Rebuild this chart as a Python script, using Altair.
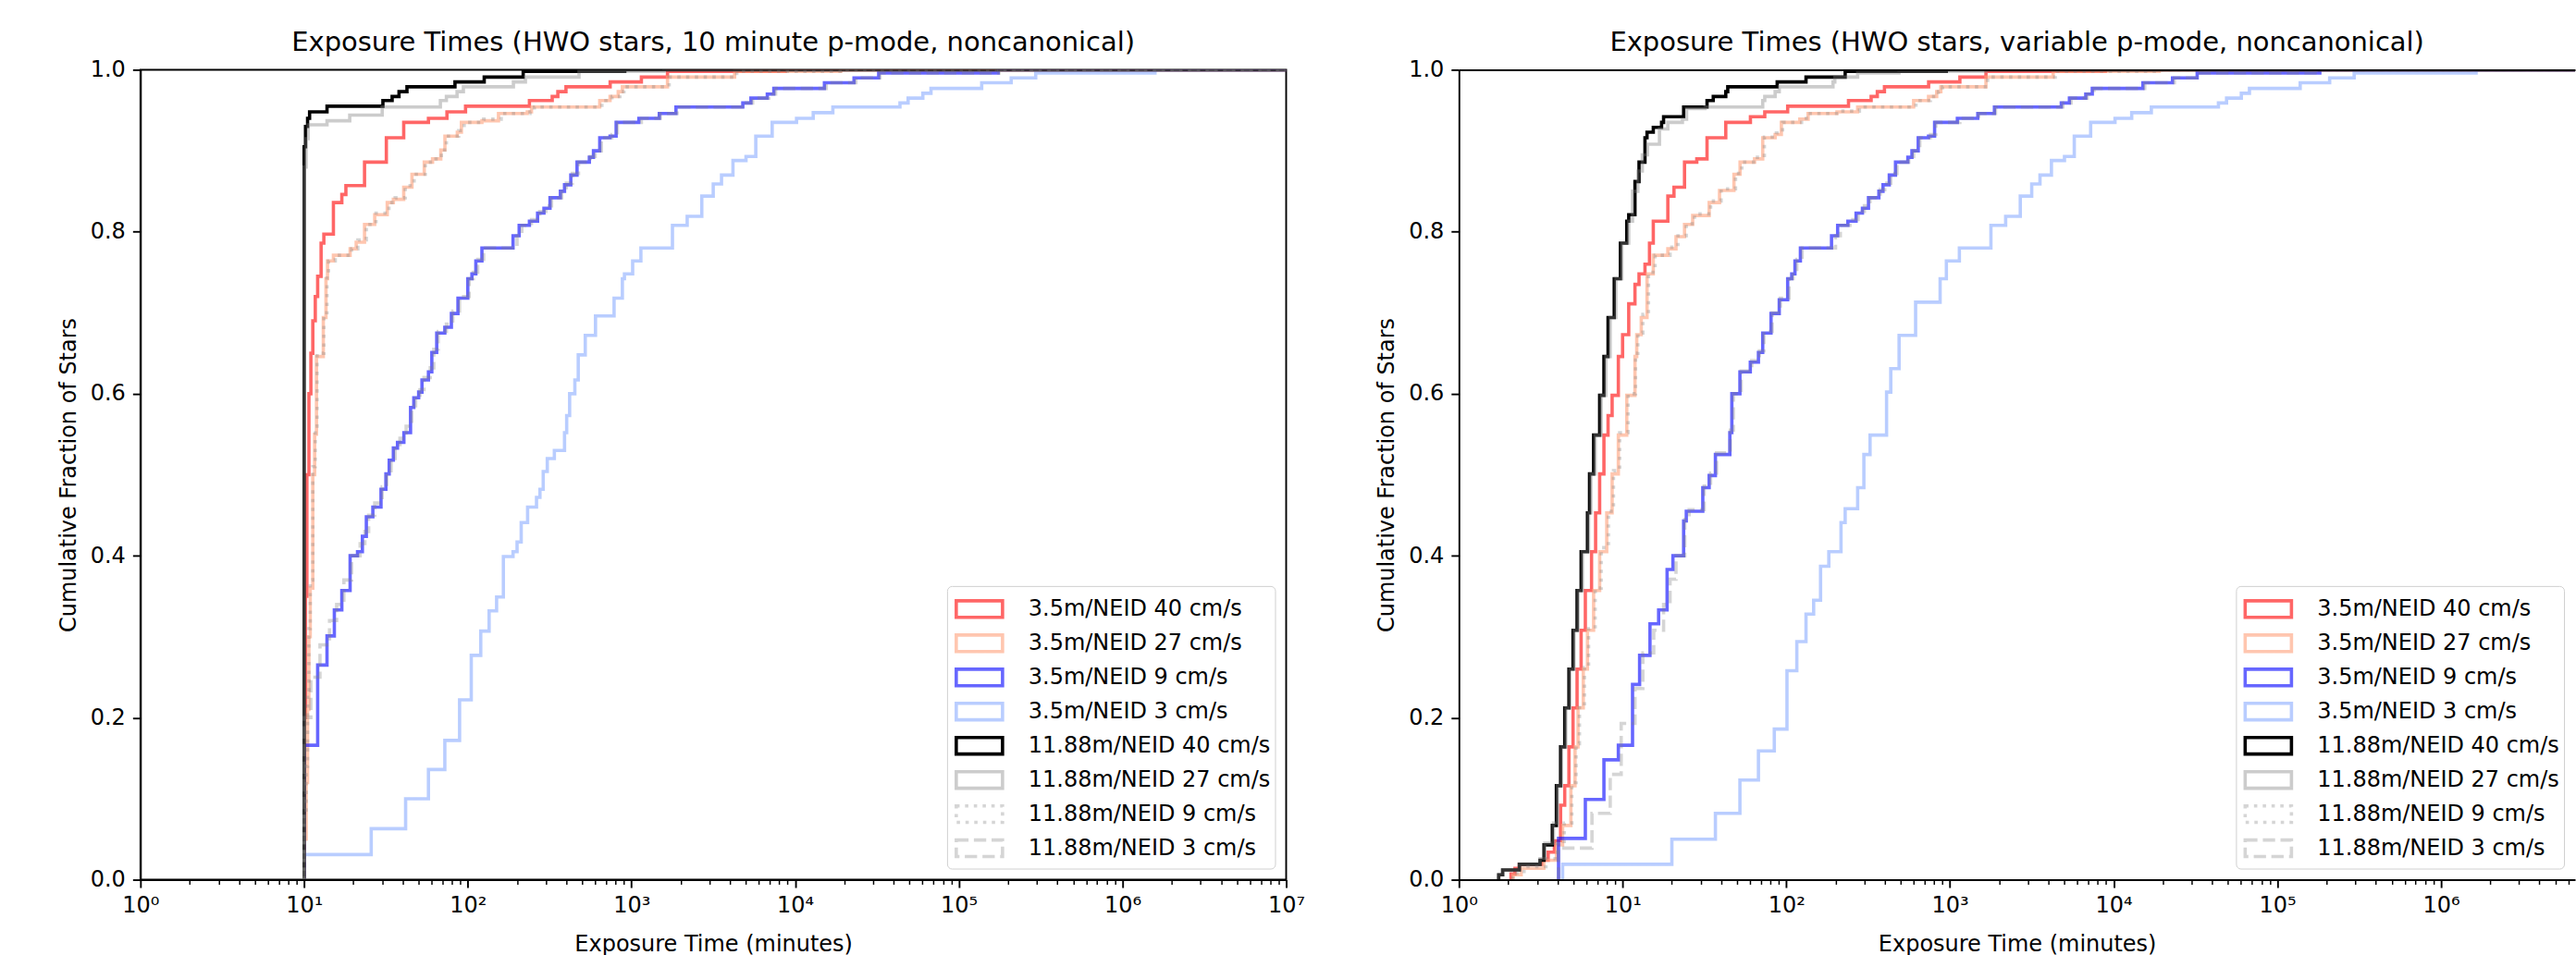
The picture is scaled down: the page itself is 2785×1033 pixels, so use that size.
import altair as alt
import pandas as pd

SERIES = [
    "3.5m/NEID 40 cm/s", "3.5m/NEID 27 cm/s", "3.5m/NEID 9 cm/s", "3.5m/NEID 3 cm/s",
    "11.88m/NEID 40 cm/s", "11.88m/NEID 27 cm/s", "11.88m/NEID 9 cm/s", "11.88m/NEID 3 cm/s",
]
COLORS = [
    "rgba(255,0,0,0.6)", "rgba(255,160,122,0.6)", "rgba(0,0,255,0.6)", "rgba(80,130,255,0.4)",
    "#000000", "rgba(128,128,128,0.4)", "rgba(128,128,128,0.33)", "rgba(128,128,128,0.33)",
]
DASHES = [[1, 0], [1, 0], [1, 0], [1, 0], [1, 0], [1, 0], [3.6, 5.9], [13.3, 5.8]]

TITLE_L = "Exposure Times (HWO stars, 10 minute p-mode, noncanonical)"
TITLE_R = "Exposure Times (HWO stars, variable p-mode, noncanonical)"
X_TITLE = "Exposure Time (minutes)"
Y_TITLE = "Cumulative Fraction of Stars"
Y_TICKS = [0.0, 0.2, 0.4, 0.6, 0.8, 1.0]
X_TICKS_L = [1, 10, 100, 1e3, 1e4, 1e5, 1e6, 1e7]
X_TICKS_R = [1, 10, 100, 1e3, 1e4, 1e5, 1e6]
MINOR_L = [m * 10 ** k for k in range(7) for m in range(2, 10)]
X_MAX_L = 1e7
X_MAX_R = 6.6e6
MINOR_R = [v for v in MINOR_L if v <= X_MAX_R]

# ---- left panel: 10 minute p-mode (exposure minutes, cumulative fraction) ----
L_RED = [(10.0, 0.0), (10.0, 0.2), (10.2, 0.35), (10.4, 0.5), (10.7, 0.6), (11.0, 0.65), (11.3, 0.69),
         (11.7, 0.72), (12.1, 0.745), (12.7, 0.786), (13.2, 0.797), (15.1, 0.836), (17.0, 0.846),
         (18.0, 0.857), (23.4, 0.886), (31.8, 0.916), (40.6, 0.935), (57.5, 0.94), (74.6, 0.948),
         (96.9, 0.955), (238, 0.962), (328, 0.967), (355, 0.973), (398, 0.979), (741, 0.985),
         (1150, 0.991), (1660, 0.998), (8700, 1.0), (1e7, 1.0)]
L_PEACH = [(10.0, 0.0), (10.0, 0.05), (10.3, 0.12), (10.5, 0.21), (10.7, 0.30), (10.9, 0.36), (11.3, 0.50),
           (11.6, 0.55), (11.9, 0.646), (13.1, 0.694), (13.6, 0.742), (13.9, 0.764), (15.1, 0.771),
           (19.1, 0.779), (20.8, 0.787), (23.4, 0.809), (27.0, 0.821), (32.2, 0.836), (35.1, 0.84),
           (40.6, 0.855), (45.6, 0.871), (54.2, 0.886), (60.9, 0.89), (68.4, 0.901), (72.5, 0.918),
           (86.3, 0.923), (91.4, 0.935), (122, 0.937), (154, 0.946), (231, 0.948), (245, 0.954),
           (640, 0.962), (740, 0.967), (830, 0.973), (880, 0.979), (1660, 0.991), (4270, 0.998),
           (19000, 1.0), (1e7, 1.0)]
L_BLUE = [(10.0, 0.0), (10.0, 0.166), (12.1, 0.265), (13.8, 0.301), (15.3, 0.333), (17.0, 0.357),
          (19.1, 0.40), (21.2, 0.405), (22.7, 0.424), (24.0, 0.448), (26.3, 0.46), (29.5, 0.482),
          (31.6, 0.501), (33.1, 0.518), (35.1, 0.533), (37.2, 0.54), (40.7, 0.552), (44.7, 0.583),
          (46.8, 0.595), (50.1, 0.602), (52.5, 0.617), (57.5, 0.627), (60.3, 0.651), (64.6, 0.675),
          (72.4, 0.682), (79.4, 0.699), (87.1, 0.718), (100, 0.742), (106, 0.748), (112, 0.764),
          (122, 0.78), (189, 0.795), (206, 0.808), (238, 0.813), (267, 0.823), (292, 0.829),
          (318, 0.842), (368, 0.85), (390, 0.858), (426, 0.87), (465, 0.886), (553, 0.892),
          (586, 0.90), (640, 0.916), (740, 0.918), (806, 0.935), (1110, 0.94), (1480, 0.946),
          (1870, 0.954), (4790, 0.959), (5370, 0.965), (6760, 0.97), (7410, 0.977), (15100, 0.984),
          (22900, 0.99), (32400, 0.996), (174000, 1.0), (1e7, 1.0)]
L_LIGHTBLUE = [(10.0, 0.0), (10.0, 0.031), (25.7, 0.063), (41.7, 0.10), (57.5, 0.136), (72.4, 0.172),
               (89.1, 0.222), (105, 0.277), (120, 0.307), (135, 0.332), (150, 0.349), (165, 0.399),
               (189, 0.405), (200, 0.417), (212, 0.441), (232, 0.46), (263, 0.472), (276, 0.482),
               (289, 0.504), (306, 0.52), (338, 0.53), (390, 0.552), (402, 0.573), (419, 0.60),
               (451, 0.617), (473, 0.648), (522, 0.672), (603, 0.696), (783, 0.718), (880, 0.742),
               (906, 0.748), (1017, 0.764), (1142, 0.78), (1780, 0.808), (2190, 0.819), (2690, 0.844),
               (3160, 0.859), (3550, 0.87), (4170, 0.888), (5010, 0.893), (5750, 0.918), (7240, 0.935),
               (10200, 0.94), (12900, 0.947), (17000, 0.954), (43700, 0.959), (49000, 0.965),
               (60300, 0.971), (67600, 0.977), (138000, 0.984), (209000, 0.99), (295000, 0.996),
               (1580000, 1.0), (1e7, 1.0)]
L_BLACK = [(10.0, 0.0), (10.0, 0.905), (10.2, 0.93), (10.5, 0.94), (10.8, 0.948), (13.8, 0.955),
           (30.3, 0.962), (34.5, 0.967), (38.0, 0.973), (42.5, 0.979), (83.5, 0.985), (126, 0.991),
           (218, 0.998), (910, 1.0), (1e7, 1.0)]
L_GRAY = [(10.0, 0.0), (10.0, 0.88), (10.3, 0.915), (10.6, 0.932), (13.8, 0.937), (19.0, 0.944),
          (30.0, 0.954), (68.0, 0.962), (74.0, 0.967), (86.0, 0.973), (94.0, 0.979), (190, 0.985),
          (225, 0.991), (478, 0.998), (1580, 1.0), (1e7, 1.0)]
L_GRAY_DOT = [(10.0, 0.0), (10.0, 0.08), (10.3, 0.14), (10.5, 0.23), (10.7, 0.31), (10.9, 0.37),
              (11.3, 0.51), (11.7, 0.56), (12.0, 0.65), (13.2, 0.70), (13.8, 0.745), (14.1, 0.764),
              (15.5, 0.771), (19.5, 0.779), (21.3, 0.79), (24.0, 0.809), (27.5, 0.823), (33.0, 0.836),
              (36.0, 0.842), (41.5, 0.857), (47.0, 0.871), (55.0, 0.886), (62.0, 0.89), (69.0, 0.901),
              (74.0, 0.918), (88.0, 0.925), (95.0, 0.935), (125, 0.939), (160, 0.946), (240, 0.948),
              (255, 0.954), (660, 0.962), (760, 0.967), (850, 0.973), (900, 0.979), (1700, 0.991),
              (4400, 0.998), (19500, 1.0), (1e7, 1.0)]
L_GRAY_DASH = [(10.0, 0.0), (10.0, 0.20), (11.0, 0.25), (12.5, 0.29), (14.3, 0.32), (15.8, 0.34),
               (17.5, 0.37), (19.5, 0.40), (22.0, 0.415), (23.5, 0.43), (24.8, 0.45), (27.0, 0.465),
               (30.0, 0.485), (32.0, 0.505), (34.0, 0.52), (36.0, 0.535), (38.5, 0.545), (42.0, 0.56),
               (45.5, 0.585), (48.0, 0.598), (51.0, 0.605), (54.0, 0.62), (59.0, 0.632), (62.0, 0.655),
               (66.0, 0.677), (74.0, 0.686), (81.0, 0.702), (89.0, 0.72), (102, 0.742), (108, 0.75),
               (115, 0.766), (125, 0.78), (200, 0.795), (214, 0.808), (245, 0.815), (275, 0.825),
               (300, 0.832), (325, 0.842), (375, 0.852), (400, 0.86), (435, 0.872), (475, 0.886),
               (560, 0.893), (600, 0.90), (655, 0.916), (760, 0.92), (820, 0.935), (1150, 0.94),
               (1500, 0.946), (1900, 0.954), (4900, 0.959), (5500, 0.965), (6900, 0.97), (7600, 0.977),
               (15500, 0.984), (23500, 0.99), (33000, 0.996), (176000, 1.0), (1e7, 1.0)]

# ---- right panel: variable p-mode ----
R_RED = [(2.08, 0.0), (2.08, 0.007), (2.2, 0.014), (2.34, 0.019), (3.2, 0.024), (3.51, 0.034), (3.83, 0.048),
         (4.18, 0.092), (4.43, 0.116), (4.70, 0.164), (4.98, 0.212), (5.27, 0.26), (5.58, 0.308),
         (5.92, 0.357), (6.46, 0.405), (6.84, 0.453), (7.24, 0.501), (7.69, 0.549), (8.15, 0.573),
         (8.63, 0.598), (9.42, 0.646), (10.0, 0.673), (10.9, 0.711), (11.9, 0.735), (12.6, 0.748),
         (13.7, 0.76), (14.6, 0.786), (15.4, 0.813), (18.9, 0.844), (20.6, 0.855), (23.9, 0.886),
         (28.4, 0.89), (32.8, 0.916), (42.7, 0.935), (60.4, 0.942), (73.9, 0.948), (102, 0.955),
         (240, 0.962), (330, 0.967), (360, 0.973), (398, 0.979), (741, 0.985), (1150, 0.991),
         (1660, 0.998), (8900, 1.0), (1e7, 1.0)]
R_PEACH = [(2.14, 0.0), (2.14, 0.006), (2.4, 0.014), (3.3, 0.024), (3.94, 0.043), (4.3, 0.067), (4.83, 0.116),
           (5.12, 0.164), (5.34, 0.212), (5.75, 0.26), (6.1, 0.308), (6.65, 0.357), (7.24, 0.405),
           (8.0, 0.453), (8.63, 0.501), (9.42, 0.549), (10.6, 0.598), (11.9, 0.646), (12.2, 0.673),
           (13.0, 0.694), (14.1, 0.748), (15.4, 0.771), (18.9, 0.779), (21.2, 0.794), (23.9, 0.809),
           (26.8, 0.82), (33.8, 0.836), (39.1, 0.851), (47.9, 0.871), (52.2, 0.886), (64.0, 0.89),
           (71.8, 0.916), (85.5, 0.92), (93.3, 0.935), (121, 0.939), (136, 0.946), (204, 0.948),
           (273, 0.954), (600, 0.962), (740, 0.967), (830, 0.973), (880, 0.979), (1660, 0.991),
           (4270, 0.998), (19000, 1.0), (1e7, 1.0)]
R_BLUE = [(4.06, 0.0), (4.06, 0.051), (5.92, 0.099), (7.69, 0.148), (9.42, 0.166), (11.5, 0.241),
          (12.7, 0.277), (14.7, 0.316), (16.6, 0.333), (18.7, 0.383), (20.3, 0.40), (23.6, 0.443),
          (24.5, 0.455), (30.9, 0.484), (33.8, 0.499), (36.9, 0.525), (45.2, 0.552), (46.5, 0.60),
          (52.1, 0.627), (60.3, 0.639), (67.6, 0.651), (71.8, 0.675), (80.7, 0.699), (90.6, 0.716),
          (102, 0.742), (108, 0.748), (113, 0.764), (122, 0.78), (189, 0.795), (206, 0.808),
          (238, 0.813), (267, 0.823), (292, 0.829), (318, 0.842), (368, 0.85), (390, 0.858),
          (426, 0.87), (465, 0.886), (553, 0.892), (586, 0.90), (640, 0.916), (740, 0.918),
          (806, 0.935), (1110, 0.94), (1480, 0.946), (1870, 0.954), (4790, 0.959), (5370, 0.965),
          (6760, 0.97), (7410, 0.977), (15100, 0.984), (22900, 0.99), (32400, 0.996),
          (182000, 1.0), (1e7, 1.0)]
R_LIGHTBLUE = [(4.3, 0.0), (4.3, 0.019), (20.0, 0.05), (36.9, 0.082), (52.1, 0.123), (67.6, 0.159),
               (84.5, 0.186), (101, 0.258), (116, 0.294), (132, 0.328), (147, 0.345), (162, 0.387),
               (182, 0.405), (216, 0.441), (229, 0.458), (273, 0.484), (298, 0.525), (325, 0.549),
               (410, 0.602), (435, 0.631), (489, 0.672), (617, 0.713), (871, 0.742), (951, 0.764),
               (1142, 0.78), (1780, 0.808), (2190, 0.819), (2690, 0.844), (3160, 0.859), (3550, 0.87),
               (4170, 0.888), (5010, 0.893), (5750, 0.918), (7240, 0.935), (10200, 0.94),
               (12900, 0.947), (17000, 0.954), (43700, 0.959), (49000, 0.965), (60300, 0.971),
               (67600, 0.977), (138000, 0.984), (209000, 0.99), (295000, 0.996), (1640000, 1.0),
               (1e7, 1.0)]
R_BLACK = [(1.75, 0.0), (1.75, 0.006), (1.85, 0.012), (2.34, 0.019), (3.13, 0.024), (3.31, 0.043),
           (3.72, 0.067), (3.94, 0.116), (4.18, 0.164), (4.43, 0.212), (4.70, 0.26), (4.98, 0.308),
           (5.27, 0.357), (5.58, 0.405), (6.10, 0.453), (6.28, 0.501), (6.65, 0.549), (7.24, 0.598),
           (7.69, 0.646), (8.15, 0.694), (8.89, 0.742), (9.7, 0.786), (10.6, 0.813), (10.9, 0.821),
           (11.9, 0.862), (12.6, 0.886), (13.7, 0.916), (14.1, 0.923), (15.4, 0.929), (17.3, 0.935),
           (17.8, 0.942), (23.6, 0.954), (32.8, 0.962), (35.8, 0.967), (42.7, 0.973), (43.9, 0.979),
           (88.0, 0.985), (132, 0.991), (229, 0.998), (950, 1.0), (1e7, 1.0)]
R_GRAY = [(1.75, 0.0), (1.75, 0.006), (1.85, 0.012), (2.34, 0.019), (3.13, 0.026), (3.35, 0.045),
          (3.78, 0.07), (4.0, 0.116), (4.24, 0.164), (4.5, 0.212), (4.77, 0.26), (5.05, 0.308),
          (5.35, 0.357), (5.68, 0.405), (6.2, 0.453), (6.4, 0.501), (6.8, 0.549), (7.4, 0.598),
          (7.9, 0.646), (8.4, 0.694), (9.1, 0.742), (9.9, 0.786), (10.9, 0.813), (11.5, 0.85),
          (12.4, 0.875), (13.2, 0.895), (14.2, 0.908), (16.8, 0.927), (18.9, 0.935), (23.2, 0.939),
          (24.6, 0.952), (31.9, 0.954), (71.8, 0.962), (73.9, 0.967), (85.5, 0.973), (90.6, 0.979),
          (193, 0.985), (198, 0.991), (273, 0.996), (488, 0.998), (1650, 1.0), (1e7, 1.0)]
R_GRAY_DOT = [(2.14, 0.0), (2.14, 0.008), (2.5, 0.016), (3.4, 0.026), (4.0, 0.045), (4.4, 0.07),
              (4.9, 0.12), (5.2, 0.168), (5.45, 0.215), (5.85, 0.262), (6.2, 0.31), (6.8, 0.36),
              (7.4, 0.41), (8.2, 0.455), (8.8, 0.505), (9.6, 0.552), (10.8, 0.60), (12.0, 0.65),
              (12.4, 0.675), (13.3, 0.698), (14.4, 0.75), (15.8, 0.771), (19.5, 0.781), (21.8, 0.795),
              (24.5, 0.81), (27.5, 0.822), (34.5, 0.838), (40.0, 0.853), (49.0, 0.872), (53.5, 0.886),
              (65.0, 0.892), (73.5, 0.917), (87.0, 0.922), (95.0, 0.935), (124, 0.94), (140, 0.946),
              (210, 0.949), (280, 0.954), (620, 0.962), (760, 0.967), (850, 0.973), (900, 0.979),
              (1700, 0.991), (4400, 0.998), (19500, 1.0), (1e7, 1.0)]
R_GRAY_DASH = [(4.06, 0.0), (4.06, 0.039), (6.5, 0.082), (8.4, 0.13), (9.8, 0.193), (11.9, 0.236),
               (13.3, 0.28), (15.5, 0.308), (17.8, 0.34), (19.5, 0.371), (21.2, 0.40), (24.0, 0.445),
               (25.5, 0.457), (31.5, 0.486), (34.5, 0.502), (37.5, 0.527), (45.5, 0.555), (47.5, 0.60),
               (53.0, 0.628), (61.5, 0.641), (68.5, 0.653), (73.0, 0.677), (82.0, 0.70), (92.0, 0.718),
               (104, 0.742), (110, 0.75), (116, 0.766), (125, 0.78), (200, 0.795), (214, 0.808),
               (245, 0.815), (275, 0.825), (300, 0.832), (325, 0.842), (375, 0.852), (400, 0.86),
               (435, 0.872), (475, 0.886), (560, 0.893), (600, 0.90), (655, 0.916), (760, 0.92),
               (820, 0.935), (1150, 0.94), (1500, 0.946), (1900, 0.954), (4900, 0.959), (5500, 0.965),
               (6900, 0.97), (7600, 0.977), (15500, 0.984), (23500, 0.99), (33000, 0.996),
               (184000, 1.0), (1e7, 1.0)]

LEFT = [L_RED, L_PEACH, L_BLUE, L_LIGHTBLUE, L_BLACK, L_GRAY, L_GRAY_DOT, L_GRAY_DASH]
RIGHT = [R_RED, R_PEACH, R_BLUE, R_LIGHTBLUE, R_BLACK, R_GRAY, R_GRAY_DOT, R_GRAY_DASH]

FONT = "DejaVu Sans"
RECT = "M-1.4,-0.5H1.4V0.5H-1.4Z"
SUP = "['\u2070','\u00b9','\u00b2','\u00b3','\u2074','\u2075','\u2076','\u2077']"
LABEL_EXPR = "'10' + " + SUP + "[round(log(datum.value) / LN10)]"


def frame(series_lists):
    rows = []
    for name, pts in zip(SERIES, series_lists):
        for i, (x, y) in enumerate(pts):
            rows.append({"series": name, "x": x, "y": y, "i": i})
    return pd.DataFrame(rows)


def legend():
    return alt.Legend(
        title=None, orient="bottom-right", offset=12,
        symbolType=RECT, symbolSize=1280, symbolStrokeWidth=3.6, symbolFillColor="transparent",
        symbolOffset=10,
        labelFont=FONT, labelFontSize=24, labelColor="black", labelLimit=600, labelOffset=33,
        rowPadding=0, padding=5, strokeColor="#d0d0d0", cornerRadius=5,
        fillColor="rgba(255,255,255,0.8)",
    )


def panel(series_lists, title, xmax, width, major, minor, right_frame):
    xscale = alt.Scale(type="log", domain=[1, xmax], nice=False)
    yscale = alt.Scale(domain=[0, 1], nice=False)
    lines = alt.Chart(frame(series_lists)).mark_line(
        interpolate="step-after", strokeWidth=3.6, clip=True
    ).encode(
        x=alt.X("x:Q", scale=xscale, axis=alt.Axis(
            values=major, labelExpr=LABEL_EXPR, title=X_TITLE, orient="bottom",
            tickSize=8.5, tickWidth=1.9, labelPadding=8, titlePadding=18,
            domainWidth=1.9, grid=False, zindex=1, labelFlush=False)),
        y=alt.Y("y:Q", scale=yscale, axis=alt.Axis(
            values=Y_TICKS, format=".1f", title=Y_TITLE,
            tickSize=8.5, tickWidth=1.9, labelPadding=8, titlePadding=11,
            domainWidth=1.9, grid=False, zindex=1)),
        color=alt.Color("series:N", scale=alt.Scale(domain=SERIES, range=COLORS), legend=legend()),
        strokeDash=alt.StrokeDash("series:N", scale=alt.Scale(domain=SERIES, range=DASHES), legend=legend()),
        order=alt.Order("i:Q"),
    )
    minor_layer = alt.Chart(pd.DataFrame({"v": minor})).mark_point(opacity=0).encode(
        x=alt.X("v:Q", scale=xscale, axis=alt.Axis(
            values=minor, labels=False, tickSize=4.9, tickWidth=1.46, domain=False,
            grid=False, title=None, orient="bottom", zindex=1)),
        y=alt.value(0),
    )
    layers = [lines, minor_layer]
    if not right_frame:
        top_layer = alt.Chart(pd.DataFrame({"v": [1]})).mark_point(opacity=0).encode(
            x=alt.X("v:Q", scale=xscale, axis=alt.Axis(
                values=[1], labels=False, ticks=False, domain=True, domainWidth=1.9,
                grid=False, title=None, orient="top", zindex=1)),
            y=alt.value(0),
        )
        layers.append(top_layer)
    ch = alt.layer(*layers).resolve_axis(x="independent").properties(
        width=width, height=877, title=title)
    if not right_frame:
        ch = ch.properties(view=alt.ViewBackground(stroke="transparent"))
    return ch


left = panel(LEFT, TITLE_L, X_MAX_L, 1240, X_TICKS_L, MINOR_L, True)
right = panel(RIGHT, TITLE_R, X_MAX_R, 1208, X_TICKS_R, MINOR_R, False)

chart = alt.hconcat(left, right, spacing=74).resolve_scale(
    x="independent", y="independent", color="independent", strokeDash="independent"
).properties(
    padding={"left": 61, "top": 31, "right": 0, "bottom": 0}, background="white"
).configure(font=FONT).configure_axis(
    labelFont=FONT, titleFont=FONT, labelFontSize=24, titleFontSize=24,
    titleFontWeight="normal", labelColor="black", titleColor="black",
    domainColor="black", tickColor="black",
).configure_title(
    font=FONT, fontSize=29, fontWeight="normal", color="black", anchor="middle", offset=2,
).configure_view(stroke="black", strokeWidth=1.9)

chart.save("out.html", embed_options={"renderer": "svg", "actions": False})
